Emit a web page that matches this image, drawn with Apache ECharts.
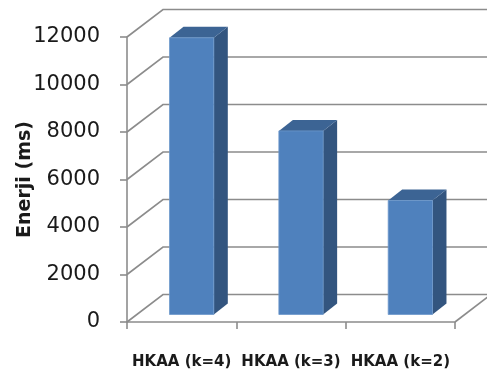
<!DOCTYPE html>
<html>
<head>
<meta charset="utf-8">
<script src="https://cdn.jsdelivr.net/npm/echarts@6/dist/echarts.min.js"></script>
<style>
  html, body { margin: 0; padding: 0; background: #fff; }
  #chart { width: 487px; height: 374px; }
</style>
</head>
<body>
<div id="chart"></div>
<script>
// data
const categories = ['HKAA (k=4)', 'HKAA (k=3)', 'HKAA (k=2)'];
const energyValues = [11650, 7730, 4800];
const yTicks = [0, 2000, 4000, 6000, 8000, 10000, 12000];

// fake 3d box: how far the back wall sits from the front plane (px)
const DEPTH_X = 36, DEPTH_Y = 27.5;
const gridColor = '#8c8c8c';
const lineW = 1.6;

// back wall + side wall lines, one per tick value
function renderGrid(params, api) {
  const cs = params.coordSys;
  const v = api.value(1);
  const y = api.coord([0, v])[1];
  const x0 = cs.x, x1 = cs.x + cs.width;
  const children = [{
    type: 'polyline',
    shape: { points: [[x0, y], [x0 + DEPTH_X, y - DEPTH_Y], [x1 + DEPTH_X + 4, y - DEPTH_Y]] },
    style: { stroke: gridColor, lineWidth: lineW, fill: 'none' }
  }];
  if (v === 0) {
    // right edge of the floor
    children.push({
      type: 'line',
      shape: { x1: x1, y1: y, x2: x1 + DEPTH_X, y2: y - DEPTH_Y },
      style: { stroke: gridColor, lineWidth: lineW }
    });
  }
  return { type: 'group', children: children };
}

// 3d-looking column: front, top and side faces
function renderBar(params, api) {
  const idx = api.value(0);
  const base = api.coord([idx, 0]);
  const top = api.coord([idx, api.value(1)]);
  const band = api.size([1, 0])[0];
  const w = band * 0.405;
  const ox = 10, oy = 7.5;   // column stands a bit inside the floor
  const dx = 14, dy = 11;    // column depth
  const l = base[0] + ox - w / 2, r = l + w;
  const yb = base[1] - oy, yt = top[1] - oy;
  return {
    type: 'group',
    children: [
      {
        type: 'polygon',
        shape: { points: [[r, yt], [r + dx, yt - dy], [r + dx, yb - dy], [r, yb]] },
        style: { fill: '#33557f' }
      },
      {
        type: 'polygon',
        shape: { points: [[l, yt], [l + dx, yt - dy], [r + dx, yt - dy], [r, yt]] },
        style: { fill: '#3c6494' }
      },
      {
        type: 'rect',
        shape: { x: l, y: yt, width: w, height: yb - yt },
        style: { fill: '#4f81bd', stroke: '#6d98cc', lineWidth: 0.8 }
      }
    ]
  };
}

const chart = echarts.init(document.getElementById('chart'));
chart.setOption({
  animation: false,
  backgroundColor: '#fff',
  grid: { left: 127, top: 37, right: 32, bottom: 52 },
  xAxis: {
    type: 'category',
    data: categories,
    boundaryGap: true,
    axisLine: { lineStyle: { color: gridColor, width: lineW } },
    axisTick: { show: true, length: 7, lineStyle: { color: gridColor, width: lineW } },
    axisLabel: {
      interval: 0,
      margin: 33,
      fontFamily: 'DejaVu Sans',
      fontWeight: 'bold',
      fontSize: 15,
      color: '#1a1a1a'
    }
  },
  yAxis: {
    type: 'value',
    min: 0,
    max: 12000,
    interval: 2000,
    name: 'Enerji (ms)',
    nameLocation: 'middle',
    nameRotate: 90,
    nameGap: 92,
    nameMoveOverlap: false,
    nameTextStyle: { fontFamily: 'DejaVu Sans', fontWeight: 'bold', fontSize: 19, color: '#1a1a1a' },
    axisLine: { show: true, lineStyle: { color: gridColor, width: lineW } },
    axisTick: { show: true, length: 7, lineStyle: { color: gridColor, width: lineW } },
    axisLabel: {
      margin: 27,
      fontFamily: 'DejaVu Sans',
      fontSize: 21,
      color: '#1a1a1a',
      formatter: v => String(v)
    },
    splitLine: { show: false }
  },
  series: [
    {
      type: 'custom',
      z: 1,
      silent: true,
      renderItem: renderGrid,
      data: yTicks.map(v => [0, v])
    },
    {
      type: 'custom',
      z: 2,
      renderItem: renderBar,
      data: energyValues.map((v, i) => [i, v])
    }
  ]
});
</script>
</body>
</html>
